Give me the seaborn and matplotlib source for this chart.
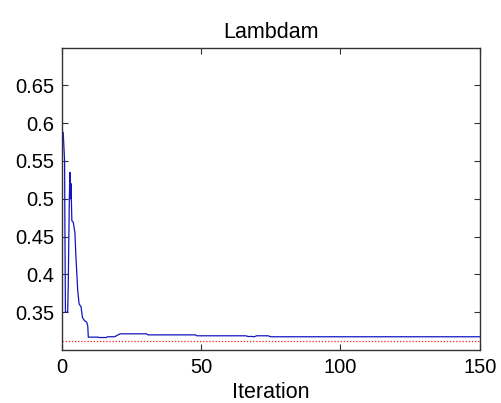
import numpy as np
import pandas as pd
import matplotlib
matplotlib.use("Agg")
import matplotlib.pyplot as plt
import seaborn as sns
from matplotlib.ticker import FuncFormatter

# du lieu doc tu hinh
iterations = [0.6, 1.1, 1.2, 1.4, 2.2, 2.4, 2.8, 3.0, 3.2, 3.4, 3.7, 4.2, 4.8, 5.1,
              5.8, 6.3, 7.0, 7.5, 8.2, 9.0, 9.4, 9.6, 13, 13.5, 16, 16.5, 19, 21,
              30.5, 31, 48, 48.5, 66, 67, 68, 69, 70, 74, 75, 150]
lambdam = [0.588, 0.55, 0.47, 0.35, 0.35, 0.383, 0.50, 0.535, 0.50, 0.52, 0.471, 0.469,
           0.455, 0.428, 0.379, 0.361, 0.357, 0.343, 0.339, 0.337, 0.332, 0.317, 0.317,
           0.3165, 0.3165, 0.3175, 0.3175, 0.3214, 0.3214, 0.320, 0.320, 0.3188, 0.3188,
           0.3178, 0.318, 0.3175, 0.3188, 0.3188, 0.3175, 0.3175]
true_value = 0.3125
x_ticks = [0, 50, 100, 150]
y_ticks = [0.35, 0.4, 0.45, 0.5, 0.55, 0.6, 0.65]

df = pd.DataFrame({"Iteration": iterations, "Lambdam": lambdam})

sns.set_style("ticks")
plt.rcParams['font.family'] = ['Liberation Sans', 'DejaVu Sans']
plt.rcParams['text.color'] = 'black'

fig = plt.figure(figsize=(5.01, 4.03), dpi=100)
ax = fig.add_axes([0.1228, 0.1315, 0.8352, 0.7506])

sns.lineplot(data=df, x="Iteration", y="Lambdam", color="#1414c0", linewidth=0.9,
             ax=ax, sort=False, estimator=None)
ax.axhline(true_value, color="#ff2020", linestyle=(0, (1, 1.5)), linewidth=0.9)

ax.set_xlim(0, 150)
ax.set_ylim(0.3, 0.7)
ax.set_xticks(x_ticks)
ax.set_yticks(y_ticks)
ax.yaxis.set_major_formatter(FuncFormatter(lambda v, p: f"{v:g}"))
ax.tick_params(direction="in", length=4, width=0.8, labelsize=14.5, colors="#333333",
               labelcolor="black", top=True, right=True)
ax.tick_params(axis="x", pad=6)
ax.tick_params(axis="y", pad=5.5)
for s in ax.spines.values():
    s.set_linewidth(1.0)
    s.set_color("#333333")

ax.set_title("Lambdam", fontsize=15.5, pad=7, color="black")
ax.set_xlabel("Iteration", fontsize=15.5, labelpad=3, color="black")
ax.set_ylabel("")

plt.savefig("out.png", dpi=100)
